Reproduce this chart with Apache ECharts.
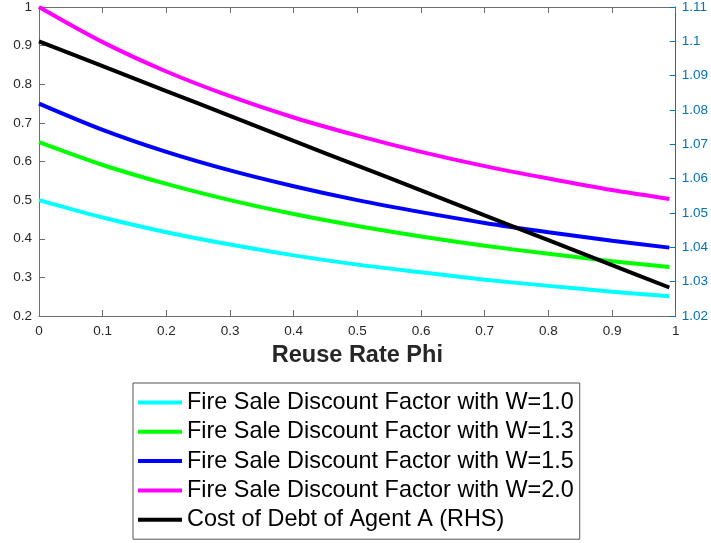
<!DOCTYPE html>
<html>
<head>
<meta charset="utf-8">
<script src="https://cdn.jsdelivr.net/npm/echarts@6/dist/echarts.min.js"></script>
<style>
  html, body { margin: 0; padding: 0; background: #fff; }
  #chart { width: 711px; height: 543px; }
</style>
</head>
<body>
<div id="chart"></div>
<script>
// reuse rate phi (x values read at 0.1 steps, curves stop just short of 1)
var phi = [0, 0.1, 0.2, 0.3, 0.4, 0.5, 0.6, 0.7, 0.8, 0.9, 0.99];

// fire sale discount factors (left axis)
var w10 = [0.500, 0.455, 0.417, 0.385, 0.357, 0.333, 0.313, 0.294, 0.278, 0.263, 0.251];
var w13 = [0.650, 0.591, 0.542, 0.500, 0.464, 0.433, 0.406, 0.382, 0.361, 0.342, 0.327];
var w15 = [0.750, 0.682, 0.625, 0.577, 0.536, 0.500, 0.469, 0.441, 0.417, 0.395, 0.377];
var w20 = [1.000, 0.909, 0.833, 0.769, 0.714, 0.667, 0.625, 0.588, 0.556, 0.526, 0.503];

// cost of debt of agent A (right axis)
var costDebt = [1.1000, 1.0928, 1.0855, 1.0783, 1.0710, 1.0638, 1.0566, 1.0493, 1.0421, 1.0348, 1.0283];

var seriesNames = [
  'Fire Sale Discount Factor with W=1.0',
  'Fire Sale Discount Factor with W=1.3',
  'Fire Sale Discount Factor with W=1.5',
  'Fire Sale Discount Factor with W=2.0',
  'Cost of Debt of Agent A (RHS)'
];
var seriesColors = ['#00ffff', '#00ff00', '#0000ff', '#ff00ff', '#000000'];
var seriesData = [w10, w13, w15, w20, costDebt];

function pairs(ys) {
  var out = [];
  for (var i = 0; i < phi.length; i++) out.push([phi[i], ys[i]]);
  return out;
}

var font = 'Liberation Sans, Arial, Helvetica, sans-serif';
var axisGray = '#6e6e6e';
var rhsBlue = '#0072bd';

var series = [];
for (var i = 0; i < seriesNames.length; i++) {
  series.push({
    name: seriesNames[i],
    type: 'line',
    yAxisIndex: i === 4 ? 1 : 0,
    data: pairs(seriesData[i]),
    smooth: 0.3,
    showSymbol: false,
    symbol: 'none',
    lineStyle: { color: seriesColors[i], width: 4 },
    itemStyle: { color: seriesColors[i] },
    z: i === 4 ? 5 : 3
  });
}

var chart = echarts.init(document.getElementById('chart'));
chart.setOption({
  animation: false,
  backgroundColor: '#fff',
  textStyle: { fontFamily: font },
  grid: { left: 39, right: 35, top: 6, bottom: 227, containLabel: false },
  legend: {
    orient: 'vertical',
    left: 133,
    top: 383,
    icon: 'rect',
    itemWidth: 44,
    itemHeight: 4,
    itemGap: 6.3,
    padding: [8, 6, 8, 5],
    borderColor: '#555',
    borderWidth: 1,
    textStyle: { fontSize: 23.4, color: '#000', fontFamily: font },
    data: seriesNames
  },
  xAxis: [{
    type: 'value',
    min: 0,
    max: 1,
    interval: 0.1,
    name: 'Reuse Rate Phi',
    nameLocation: 'middle',
    nameGap: 28,
    nameTextStyle: { fontSize: 23.5, fontWeight: 'bold', color: '#262626', fontFamily: font },
    axisLine: { onZero: false, lineStyle: { color: axisGray, width: 1 } },
    axisTick: { inside: true, length: 6, lineStyle: { color: axisGray } },
    axisLabel: { fontSize: 13.5, color: '#262626', margin: 8,
      formatter: function (v) { return String(+v.toFixed(1)); } },
    splitLine: { show: false }
  }, {
    type: 'value',
    position: 'top',
    min: 0,
    max: 1,
    interval: 0.1,
    axisLine: { show: true, onZero: false, lineStyle: { color: axisGray, width: 1 } },
    axisTick: { inside: true, length: 6, lineStyle: { color: axisGray } },
    axisLabel: { show: false },
    splitLine: { show: false }
  }],
  yAxis: [{
    type: 'value',
    min: 0.2,
    max: 1,
    interval: 0.1,
    axisLine: { show: true, onZero: false, lineStyle: { color: axisGray, width: 1 } },
    axisTick: { show: true, inside: true, length: 6, lineStyle: { color: axisGray } },
    axisLabel: { fontSize: 13.5, color: '#262626', margin: 7,
      formatter: function (v) { return String(+v.toFixed(1)); } },
    splitLine: { show: false }
  }, {
    type: 'value',
    position: 'right',
    min: 1.02,
    max: 1.11,
    interval: 0.01,
    axisLine: { show: true, onZero: false, lineStyle: { color: rhsBlue, width: 1 } },
    axisTick: { show: true, inside: true, length: 6, lineStyle: { color: rhsBlue } },
    axisLabel: { fontSize: 13.5, color: rhsBlue, margin: 6,
      formatter: function (v) { return String(+v.toFixed(2)); } },
    splitLine: { show: false }
  }],
  series: series
});
</script>
</body>
</html>
